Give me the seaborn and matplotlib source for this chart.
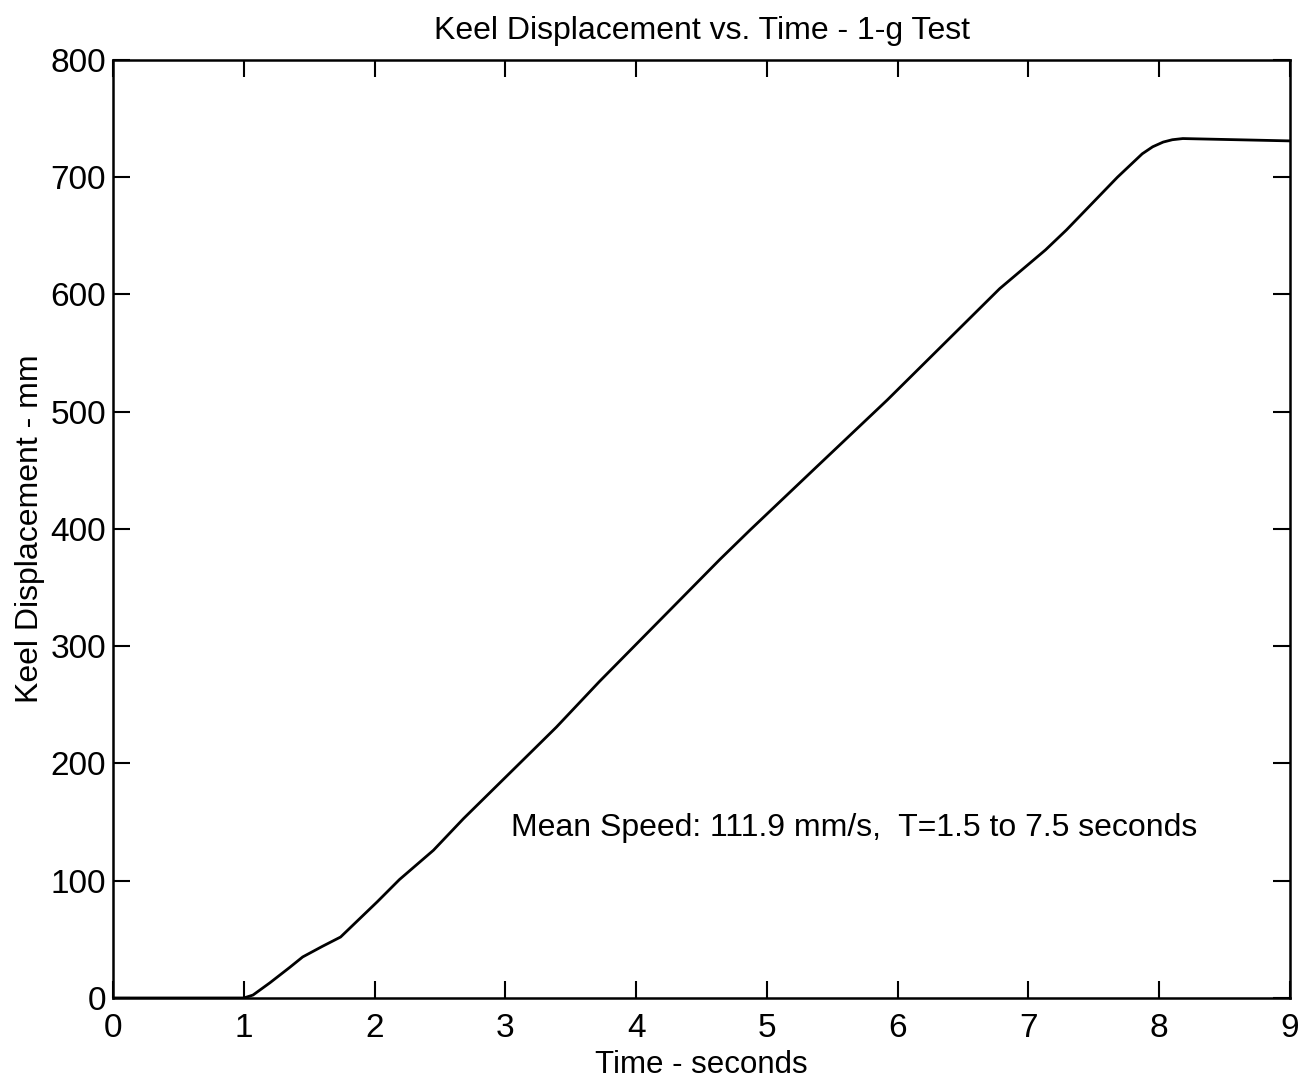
import pandas as pd
import matplotlib
matplotlib.use("Agg")
import matplotlib.pyplot as plt
import seaborn as sns

# Keel displacement
time_s = [0.0, 0.4, 1.0, 1.07, 1.2, 1.35, 1.45, 1.6, 1.74, 2.02, 2.19, 2.45,
          2.68, 3.19, 3.39, 3.72, 4.18, 4.64, 4.87, 5.38, 5.92, 6.78, 7.13,
          7.29, 7.68, 7.87, 7.95, 8.03, 8.1, 8.18, 9.0]
disp_mm = [0, 0, 0, 2.5, 13, 26, 35, 44, 52, 82, 101, 126,
           153, 209, 231, 270, 322, 374, 399, 453, 510, 605, 638,
           655, 700, 720, 726, 730, 732, 733, 731]

x_ticks = list(range(0, 10))
y_ticks = list(range(0, 900, 100))

df = pd.DataFrame({"t": time_s, "d": disp_mm})

sns.set_style("ticks")
plt.rcParams["font.family"] = ["Liberation Sans", "DejaVu Sans"]
plt.rcParams["xtick.direction"] = "in"
plt.rcParams["ytick.direction"] = "in"
plt.rcParams["text.color"] = "black"
plt.rcParams["axes.labelcolor"] = "black"

fig = plt.figure(figsize=(13.13, 10.83), dpi=100)
ax = fig.add_axes([0.0861, 0.0785, 0.8964, 0.8661])

sns.lineplot(data=df, x="t", y="d", color="black", linewidth=2, ax=ax)

ax.set_xlim(0, 9)
ax.set_ylim(0, 800)
ax.set_xticks(x_ticks)
ax.set_yticks(y_ticks)
ax.tick_params(axis="both", which="both", top=True, right=True,
               length=12, width=1.5, labelsize=24, colors="black", pad=5)
ax.tick_params(axis="x", pad=11)
for s in ax.spines.values():
    s.set_linewidth(1.8)
    s.set_color("black")

ax.set_xlabel("Time - seconds", fontsize=22.5, labelpad=4)
ax.set_ylabel("Keel Displacement - mm", fontsize=23, labelpad=4)
ax.set_title("Keel Displacement vs. Time - 1-g Test", fontsize=23, pad=15)

ax.text(3.04, 145, "Mean Speed: 111.9 mm/s,  T=1.5 to 7.5 seconds",
        fontsize=23, va="center", ha="left")

fig.savefig("out.png", dpi=100)
